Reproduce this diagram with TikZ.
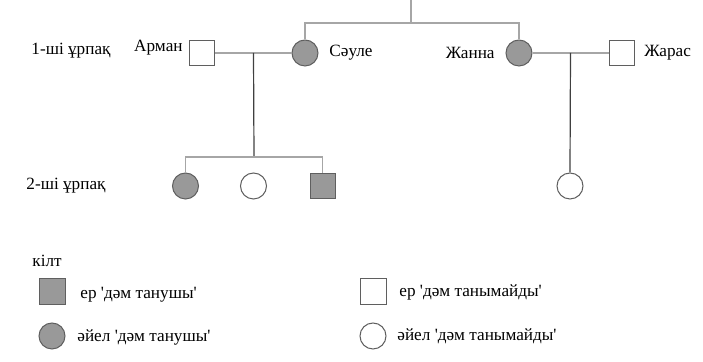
\documentclass[tikz,border=0pt]{standalone}
\usepackage{fontspec}
\setmainfont{Liberation Serif}[Ligatures=TeXOff]
\usetikzlibrary{positioning,calc}
\definecolor{linegray}{HTML}{A6A6A6}
\definecolor{darkline}{HTML}{404040}
\definecolor{edgegray}{HTML}{5F5F5F}
\definecolor{fillgray}{HTML}{999999}
\tikzset{
  male/.style={draw=edgegray, line width=0.5pt, minimum size=12.5pt, inner sep=0pt},
  female/.style={draw=edgegray, line width=0.5pt, circle, minimum size=13pt, inner sep=0pt},
  taster/.style={fill=fillgray},
  notaster/.style={fill=white},
  marry/.style={draw=linegray, line width=0.7pt},
  descent/.style={draw=darkline, line width=0.6pt},
  txt/.style={inner sep=0pt, font=\fontsize{8.6pt}{10pt}\selectfont}
}
\begin{document}
\begin{tikzpicture}[x=0.5pt,y=-0.5pt,node distance=10pt,on grid]
\useasboundingbox (0,0) rectangle (703,362);
% first generation
\node[female,taster] (saule) at (305,53) {};
\node[male,notaster,left=51.5pt of saule] (arman) {};
\node[female,taster,right=107pt of saule] (zhanna) {};
\node[male,notaster,right=51.5pt of zhanna] (zharas) {};
\coordinate (top) at (411,0);
\coordinate (topbar) at (411,23);
\coordinate (m1) at ($(arman)!0.5!(saule)$);
\coordinate (m2) at ($(zhanna)!0.5!(zharas)$);
\node[txt,anchor=east] (armanlbl) at (183,48) {Арман};
\node[txt,anchor=west] (saulelbl) at (329,53) {Сәуле};
\node[txt,anchor=east] (zhannalbl) at (495,53) {Жанна};
\node[txt,anchor=west] (zharaslbl) at (644,53) {Жарас};
\node[txt] (gen1) at (71,51) {1-ші ұрпақ};
% second generation
\node[female,notaster] (c2) at (253.5,186) {};
\node[female,taster,left=34pt of c2] (c1) {};
\node[male,taster,right=34.5pt of c2] (c3) {};
\node[female,notaster] (c4) at (570,186) {};
\node[txt] (gen2) at (66,186) {2-ші ұрпақ};
\coordinate (sib) at (254,157);
% connectors
\draw[marry] (saule.north) |- (topbar) -| (zhanna.north);
\draw[marry] (top) -- (topbar);
\draw[marry] (arman) -- (saule);
\draw[marry] (zhanna) -- (zharas);
\draw[descent] (m1) -- (sib);
\draw[marry] (c1.north) |- (sib) -| (c3.north);
\draw[descent] (m2) -- (c4.north);
% key
\node[txt,anchor=west] (key) at (32,261) {кілт};
\node[male,taster,minimum size=13pt] (k1) at (52,292) {};
\node[female,taster,below=22pt of k1] (k2) {};
\node[male,notaster,minimum size=13pt,right=160.5pt of k1] (k3) {};
\node[female,notaster,below=22pt of k3] (k4) {};
\node[txt,anchor=west] (k1lbl) at (80,295) {ер 'дәм танушы'};
\node[txt,anchor=west] (k2lbl) at (77,337) {әйел 'дәм танушы'};
\node[txt,anchor=west] (k3lbl) at (399,292) {ер 'дәм танымайды'};
\node[txt,anchor=west] (k4lbl) at (397,336) {әйел 'дәм танымайды'};
\end{tikzpicture}
\end{document}
